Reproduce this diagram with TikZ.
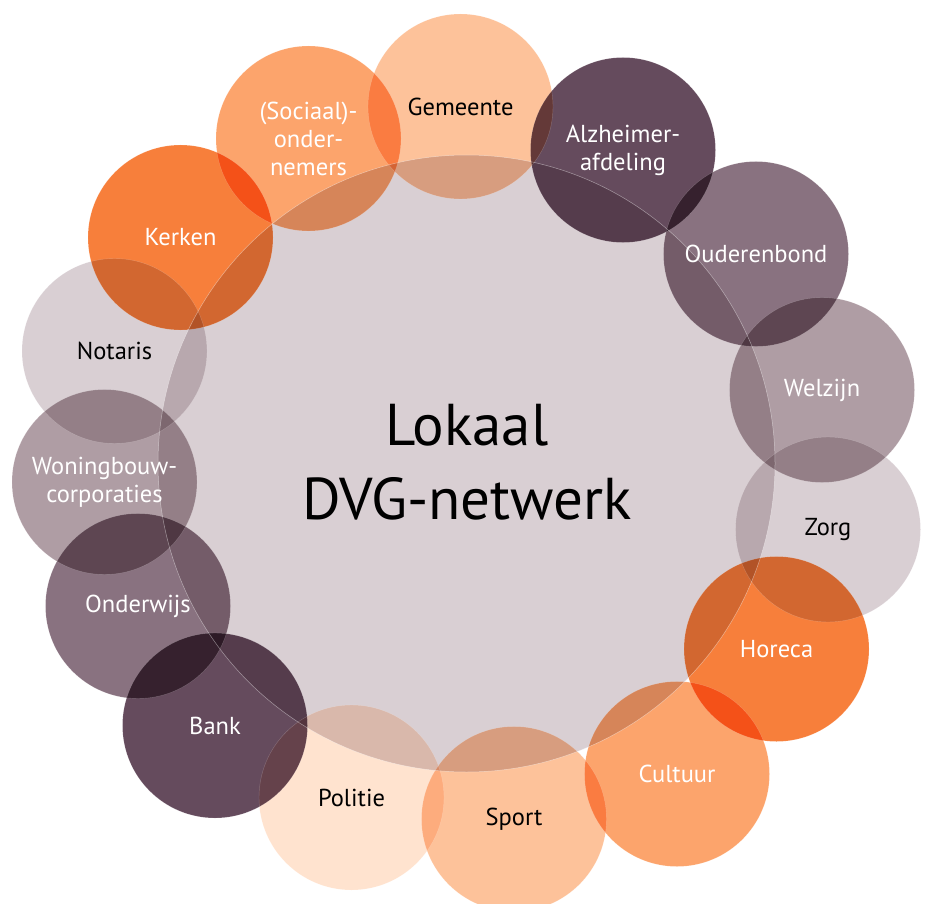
\documentclass[tikz,border=0pt]{standalone}
\usepackage{fontspec}
\setmainfont{PT Sans}
\definecolor{cPeachL}{HTML}{FFE3CF}
\definecolor{cPeach}{HTML}{FDC29A}
\definecolor{cOrM}{HTML}{FCA46C}
\definecolor{cOr}{HTML}{F77F3B}
\definecolor{cMauveL}{HTML}{D9CFD3}
\definecolor{cMauveM}{HTML}{AF9DA4}
\definecolor{cMauveD}{HTML}{897280}
\definecolor{cPlum}{HTML}{654B5D}
\tikzset{
  sat/.style={circle, minimum size=185pt, inner sep=0pt},
  hub/.style={circle, minimum size=617pt, inner sep=0pt},
  rim/.style={draw=white, line width=0.5pt, draw opacity=0.45},
  lbl/.style={font=\fontsize{24.5}{28}\selectfont, align=center, inner sep=0pt},
  lblw/.style={lbl, text=white},
  lblb/.style={lbl, text=black},
}
\begin{document}
\begin{tikzpicture}[x=1pt,y=-1pt]
\useasboundingbox (0,0) rectangle (926,904);
\begin{scope}[blend mode=multiply]
\node[sat, fill=cPeach]   (gem) at (460.5,106.5) {};
\node[sat, fill=cOrM]     (soc) at (308.5,138.5) {};
\node[sat, fill=cOr]      (ker) at (180.5,237.5) {};
\node[sat, fill=cMauveL]  (not) at (114.5,351) {};
\node[sat, fill=cMauveM]  (won) at (104.5,482) {};
\node[sat, fill=cMauveD]  (ond) at (138,606) {};
\node[sat, fill=cPlum]    (ban) at (215,725.5) {};
\node[sat, fill=cPeachL]  (pol) at (351.5,797.5) {};
\node[sat, fill=cPeach]   (spo) at (514,819) {};
\node[sat, fill=cOrM]     (cul) at (677,774) {};
\node[sat, fill=cOr]      (hor) at (776.5,649) {};
\node[sat, fill=cMauveL]  (zor) at (828,529.5) {};
\node[sat, fill=cMauveM]  (wel) at (822,390) {};
\node[sat, fill=cMauveD]  (oud) at (756,254) {};
\node[sat, fill=cPlum]    (alz) at (623,150) {};
\node[hub, fill=cMauveL]  (hub) at (466.5,463.5) {};
\end{scope}
\foreach \n in {gem,soc,ker,not,won,ond,ban,pol,spo,cul,hor,zor,wel,oud,alz}
  \draw[white, line width=0.4pt, draw opacity=0.22] (\n) circle (92.5);
\draw[rim] (hub) circle (308.5);
\node[lblb] (gemT) at (gem) {Gemeente};
\node[lblw] (socT) at (soc) {(Sociaal)-\\onder-\\nemers};
\node[lblw] (kerT) at (ker) {Kerken};
\node[lblb] (notT) at (not) {Notaris};
\node[lblw] (wonT) at (won) {Woningbouw-\\corporaties};
\node[lblw] (ondT) at (ond) {Onderwijs};
\node[lblw] (banT) at (ban) {Bank};
\node[lblb] (polT) at (pol) {Politie};
\node[lblb] (spoT) at (spo) {Sport};
\node[lblw] (culT) at (cul) {Cultuur};
\node[lblw] (horT) at (hor) {Horeca};
\node[lblb] (zorT) at (zor) {Zorg};
\node[lblw] (welT) at (wel) {Welzijn};
\node[lblw] (oudT) at (oud) {Ouderenbond};
\node[lblw] (alzT) at (alz) {Alzheimer-\\afdeling};
\node[font=\fontsize{59}{74}\selectfont, align=center, inner sep=0pt] (hubT) at (467,462) {Lokaal\\DVG-netwerk};
\end{tikzpicture}
\end{document}
